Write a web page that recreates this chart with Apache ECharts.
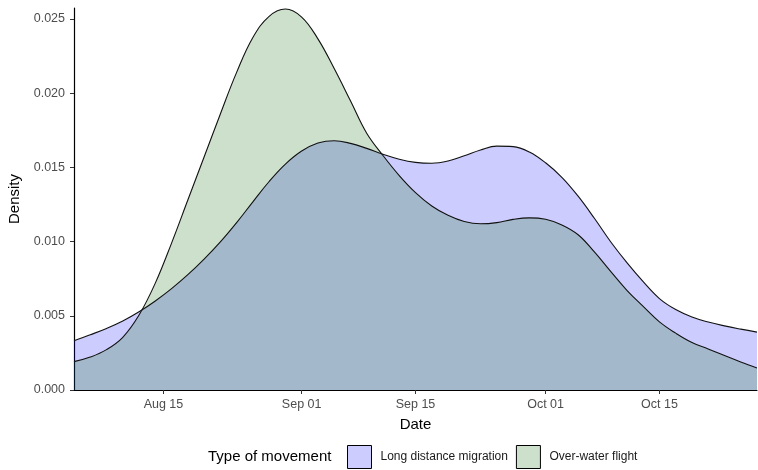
<!DOCTYPE html>
<html>
<head>
<meta charset="utf-8">
<script src="https://cdn.jsdelivr.net/npm/echarts@6/dist/echarts.min.js"></script>
<style>
  html, body { margin: 0; padding: 0; background: #fff; }
  #density-chart { width: 758px; height: 470px; }
</style>
</head>
<body>
<div id="density-chart"></div>
<script>
// day number counted from Aug 01 (Aug 01 = 0)
const days = [3, 5, 7, 9, 11, 13, 15, 17, 19, 21, 23, 25, 27, 29, 31, 33, 35, 37, 39, 41, 43,
  45, 47, 49, 51, 53, 55, 57, 59, 61, 63, 65, 67, 69, 71, 73, 75, 77, 79, 81, 83, 85, 87];

const longDistance = [0.00332, 0.00372, 0.00415, 0.00465, 0.00527, 0.006, 0.00683, 0.00777,
  0.00882, 0.00998, 0.01128, 0.01268, 0.01405, 0.01522, 0.0161, 0.01664, 0.0168, 0.01662,
  0.01628, 0.01588, 0.01555, 0.01534, 0.01528, 0.01543, 0.01578, 0.01617, 0.01643, 0.0164,
  0.01604, 0.01531, 0.01433, 0.01306, 0.01157, 0.00999, 0.00858, 0.0073, 0.00616, 0.00542,
  0.00492, 0.00458, 0.00432, 0.0041, 0.0039];

const overWater = [0.00191, 0.00222, 0.00272, 0.00355, 0.00505, 0.0072, 0.0099, 0.0128,
  0.0157, 0.0186, 0.0214, 0.02375, 0.02518, 0.02567, 0.02513, 0.02366, 0.02166, 0.01949,
  0.0173, 0.0158, 0.01445, 0.0133, 0.0124, 0.01177, 0.01135, 0.0112, 0.01128, 0.0115,
  0.0116, 0.0115, 0.01112, 0.01046, 0.0093, 0.00799, 0.00672, 0.00563, 0.00459, 0.00383,
  0.0032, 0.00277, 0.00232, 0.00189, 0.00148];

const tickDays = [14, 31, 45, 61, 75];
const tickLabels = ["Aug 15", "Sep 01", "Sep 15", "Oct 01", "Oct 15"];
const yTicks = [0, 0.005, 0.01, 0.015, 0.02, 0.025];

const seriesNames = ["Long distance migration", "Over-water flight"];
const fills = ["rgba(0, 0, 255, 0.2)", "rgba(0, 100, 0, 0.2)"];

const font = "Liberation Sans, Arial, sans-serif";

const toPairs = (vals) => days.map((d, i) => [d, vals[i]]);

const option = {
  animation: false,
  textStyle: { fontFamily: font },
  title: {
    text: "Type of movement",
    left: 208,
    top: 449,
    padding: 0,
    textStyle: { fontSize: 15, fontWeight: "normal", color: "#000", fontFamily: font },
  },
  legend: {
    left: 347,
    top: 445,
    padding: 0,
    icon: "rect",
    itemWidth: 24,
    itemHeight: 23,
    itemGap: 8,
    textStyle: { fontSize: 12, color: "#1a1a1a", fontFamily: font, padding: [0, 0, 0, 4] },
    data: seriesNames.map((name, i) => ({
      name: name,
      itemStyle: { color: fills[i], borderColor: "#000", borderWidth: 1 },
    })),
  },
  grid: {
    left: 74,
    right: 1,
    top: 8,
    bottom: 80,
    outerBoundsMode: "none",
  },
  xAxis: {
    type: "value",
    min: 3,
    max: 87,
    name: "Date",
    nameLocation: "middle",
    nameGap: 27,
    nameTextStyle: { fontSize: 15, color: "#000", fontFamily: font },
    splitLine: { show: false },
    axisLine: { show: true, onZero: false, lineStyle: { color: "#000", width: 1.2 } },
    axisTick: { show: true, length: 4, customValues: tickDays, lineStyle: { color: "#333" } },
    axisLabel: {
      customValues: tickDays,
      margin: 8,
      fontSize: 12.5,
      color: "#4d4d4d",
      formatter: (v) => tickLabels[tickDays.indexOf(v)] || "",
    },
  },
  yAxis: {
    type: "value",
    min: 0,
    max: 0.02574,
    name: "Density",
    nameLocation: "middle",
    nameGap: 47,
    nameTextStyle: { fontSize: 15, color: "#000", fontFamily: font },
    splitLine: { show: false },
    axisLine: { show: true, lineStyle: { color: "#000", width: 1.2 } },
    axisTick: { show: true, length: 4, customValues: yTicks, lineStyle: { color: "#333" } },
    axisLabel: {
      customValues: yTicks,
      margin: 9,
      fontSize: 12.5,
      color: "#4d4d4d",
      formatter: (v) => v.toFixed(3),
    },
  },
  series: [
    {
      name: seriesNames[0],
      type: "line",
      smooth: 0.4,
      showSymbol: false,
      data: toPairs(longDistance),
      itemStyle: { color: fills[0] },
      lineStyle: { color: "#111", width: 1.1 },
      areaStyle: { color: fills[0], opacity: 1, origin: "start" },
    },
    {
      name: seriesNames[1],
      type: "line",
      smooth: 0.4,
      showSymbol: false,
      data: toPairs(overWater),
      itemStyle: { color: fills[1] },
      lineStyle: { color: "#111", width: 1.1 },
      areaStyle: { color: fills[1], opacity: 1, origin: "start" },
    },
  ],
};

const chart = echarts.init(document.getElementById("density-chart"));
chart.setOption(option);
</script>
</body>
</html>
